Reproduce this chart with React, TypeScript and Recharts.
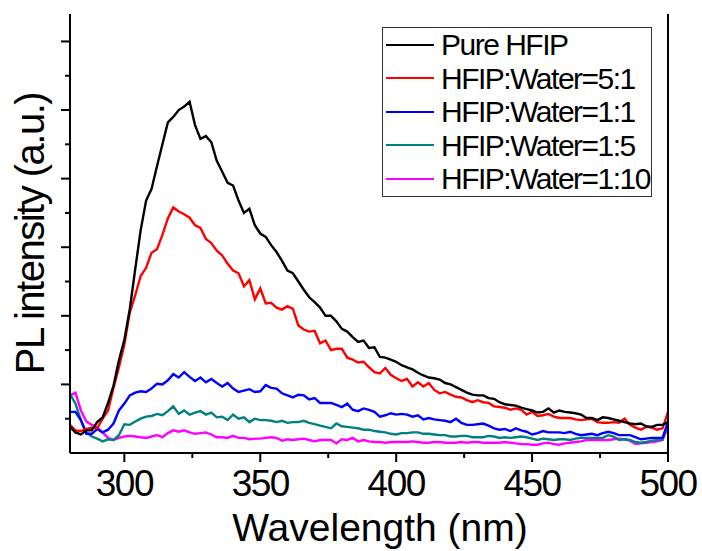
import { LineChart, Line, XAxis, YAxis, Legend } from "recharts";

// excitation scan, 2 nm steps
const WAVELENGTH = [
  280, 282, 284, 286, 288, 290, 292, 294, 296, 298,
  300, 302, 304, 306, 308, 310, 312, 314, 316, 318,
  320, 322, 324, 326, 328, 330, 332, 334, 336, 338,
  340, 342, 344, 346, 348, 350, 352, 354, 356, 358,
  360, 362, 364, 366, 368, 370, 372, 374, 376, 378,
  380, 382, 384, 386, 388, 390, 392, 394, 396, 398,
  400, 402, 404, 406, 408, 410, 412, 414, 416, 418,
  420, 422, 424, 426, 428, 430, 432, 434, 436, 438,
  440, 442, 444, 446, 448, 450, 452, 454, 456, 458,
  460, 462, 464, 466, 468, 470, 472, 474, 476, 478,
  480, 482, 484, 486, 488, 490, 492, 494, 496, 498,
  500,
];

const PURE_HFIP = [
  38, 30, 27, 33, 33, 45, 52, 73, 98, 135,
  165, 210, 268, 325, 368, 385, 418, 450, 482, 490,
  500, 505, 512, 478, 458, 462, 453, 426, 410, 394,
  390, 368, 350, 356, 332, 320, 315, 303, 293, 280,
  266, 262, 250, 238, 227, 220, 212, 200, 200, 192,
  181, 177, 169, 162, 164, 153, 154, 140, 139, 136,
  133, 128, 125, 122, 117, 113, 110, 109, 107, 102,
  100, 96, 92, 88, 85, 84, 84, 80, 79, 74,
  71, 70, 69, 66, 64, 62, 59, 60, 65, 59,
  62, 60, 59, 58, 56, 51, 51, 48, 52, 51,
  49, 47, 45, 43, 42, 43, 39, 38, 41, 41,
  45,
];

const RATIO_5_1 = [
  41, 33, 32, 35, 37, 36, 50, 62, 95, 125,
  158, 205, 230, 258, 270, 292, 297, 318, 342, 358,
  352, 348, 343, 332, 328, 312, 306, 295, 288, 276,
  266, 262, 243, 252, 224, 240, 218, 219, 212, 209,
  214, 210, 186, 180, 177, 178, 160, 164, 150, 152,
  152, 139, 136, 132, 133, 125, 118, 116, 124, 114,
  109, 105, 108, 97, 103, 97, 102, 92, 87, 89,
  85, 82, 81, 77, 74, 77, 74, 73, 68, 67,
  66, 63, 65, 63, 56, 60, 54, 55, 57, 53,
  51, 51, 51, 49, 48, 49, 50, 45, 44, 44,
  45, 44, 50, 41, 37, 34, 38, 37, 34, 36,
  60,
];

const RATIO_1_1 = [
  60, 60, 48, 28, 28, 35, 30, 34, 43, 62,
  72, 84, 88, 90, 89, 94, 101, 100, 106, 115,
  110, 118, 111, 105, 110, 103, 108, 102, 97, 102,
  94, 89, 91, 93, 89, 90, 99, 95, 94, 87,
  84, 81, 85, 84, 78, 80, 73, 73, 73, 70,
  67, 72, 63, 61, 65, 63, 60, 53, 55, 58,
  56, 57, 56, 53, 55, 49, 51, 49, 48, 47,
  45, 50, 44, 41, 41, 42, 43, 40, 36, 34,
  35, 32, 36, 33, 31, 27, 29, 32, 30, 30,
  30, 29, 31, 28, 26, 27, 28, 26, 29, 31,
  29, 26, 26, 26, 23, 20, 21, 22, 22, 22,
  45,
];

const RATIO_1_5 = [
  86, 72, 48, 30, 24, 21, 17, 20, 19, 26,
  42, 41, 46, 50, 53, 54, 57, 55, 61, 68,
  57, 62, 56, 59, 61, 56, 59, 52, 53, 48,
  56, 50, 52, 45, 50, 48, 48, 47, 45, 47,
  44, 45, 45, 47, 44, 42, 40, 38, 36, 43,
  39, 38, 37, 36, 34, 34, 32, 31, 30, 28,
  27, 29, 29, 30, 30, 28, 28, 27, 26, 26,
  24, 24, 25, 25, 23, 23, 23, 25, 24, 22,
  23, 22, 23, 24, 23, 21, 19, 21, 20, 19,
  20, 20, 19, 21, 22, 22, 22, 22, 22, 26,
  24, 19, 20, 19, 16, 15, 16, 18, 19, 20,
  44,
];

const RATIO_1_10 = [
  84, 88, 62, 46, 41, 37, 30, 22, 19, 22,
  24, 25, 24, 23, 22, 24, 26, 23, 29, 33,
  31, 33, 30, 28, 29, 30, 27, 23, 23, 22,
  25, 22, 22, 20, 21, 21, 22, 23, 22, 18,
  20, 19, 20, 21, 19, 17, 19, 19, 19, 14,
  20, 19, 22, 17, 19, 17, 16, 16, 15, 16,
  16, 16, 16, 17, 16, 15, 15, 16, 16, 15,
  15, 15, 16, 15, 16, 16, 15, 15, 15, 15,
  16, 15, 14, 13, 13, 12, 12, 14, 15, 13,
  12, 14, 15, 16, 17, 19, 19, 19, 19, 19,
  20, 21, 20, 18, 13, 14, 15, 16, 17, 19,
  38,
];

const X_TICKS = [300, 325, 350, 375, 400, 425, 450, 475, 500];
const X_LABELED = [300, 350, 400, 450, 500];
const Y_TICKS = [50, 100, 150, 200, 250, 300, 350, 400, 450, 500, 550, 600];
const Y_MAJOR = [100, 200, 300, 400, 500, 600];

const SERIES = [
  { key: "pure", name: "Pure HFIP", color: "#000000" },
  { key: "r51", name: "HFIP:Water=5:1", color: "#ff0000" },
  { key: "r11", name: "HFIP:Water=1:1", color: "#0000ff" },
  { key: "r15", name: "HFIP:Water=1:5", color: "#008080" },
  { key: "r110", name: "HFIP:Water=1:10", color: "#ff00ff" },
];

const data = WAVELENGTH.map((wl, i) => ({
  wl,
  pure: PURE_HFIP[i],
  r51: RATIO_5_1[i],
  r11: RATIO_1_1[i],
  r15: RATIO_1_5[i],
  r110: RATIO_1_10[i],
}));

const FONT = '"Liberation Sans", Arial, Helvetica, sans-serif';
const INK = "#000";

function BottomTick(props: any) {
  const { x, y, payload } = props;
  const labeled = X_LABELED.includes(payload.value);
  return (
    <g>
      <line x1={x} x2={x} y1={y} y2={y + (labeled ? 9 : 5)} stroke={INK} strokeWidth={2} />
      {labeled && (
        <text x={x} y={y + 43} textAnchor="middle" fontSize={37} letterSpacing={-1.5} fill={INK} fontFamily={FONT}>
          {payload.value}
        </text>
      )}
    </g>
  );
}

function TopTick(props: any) {
  const { x, y } = props;
  return <line x1={x} x2={x} y1={y - 4} y2={y} stroke={INK} strokeWidth={2} />;
}

function LeftTick(props: any) {
  const { x, y, payload } = props;
  const len = Y_MAJOR.includes(payload.value) ? 9 : 5;
  return <line x1={x - len} x2={x} y1={y} y2={y} stroke={INK} strokeWidth={2} />;
}

function RightTick(props: any) {
  const { x, y } = props;
  return <line x1={x} x2={x + 4} y1={y} y2={y} stroke={INK} strokeWidth={2} />;
}

function XTitle(props: any) {
  const vb = props.viewBox;
  return (
    <text x={vb.x + vb.width / 2 + 11} y={vb.y + 88} textAnchor="middle" fontSize={39} fill={INK} fontFamily={FONT}>
      Wavelength (nm)
    </text>
  );
}

function YTitle(props: any) {
  const vb = props.viewBox;
  const cx = vb.x + 30;
  const cy = vb.y + vb.height / 2;
  return (
    <text
      x={cx}
      y={cy}
      transform={`rotate(-90 ${cx} ${cy})`}
      textAnchor="middle"
      dominantBaseline="central"
      fontSize={40}
      letterSpacing={-1.5}
      fill={INK}
      fontFamily={FONT}
    >
      PL intensity (a.u.)
    </text>
  );
}

function LegendBox() {
  return (
    <div
      style={{
        boxSizing: "border-box",
        width: 270,
        border: "1px solid #333",
        background: "#fff",
        fontFamily: FONT,
      }}
    >
      {SERIES.map((s) => (
        <div key={s.key} style={{ display: "flex", alignItems: "center", height: 33.5 }}>
          <span style={{ display: "inline-block", width: 48, height: 2, background: s.color, marginLeft: 3, marginRight: 7 }} />
          <span style={{ fontSize: 30, letterSpacing: -1.5, lineHeight: "33.5px", color: INK, whiteSpace: "nowrap" }}>
            {s.name}
          </span>
        </div>
      ))}
    </div>
  );
}

export default function App() {
  return (
    <div style={{ position: "absolute", left: 0, top: 0, background: "#fff" }}>
      <LineChart width={702} height={551} data={data} margin={{ top: 14, right: 0, bottom: 0, left: 0 }}>
        <XAxis
          xAxisId="b"
          dataKey="wl"
          type="number"
          domain={[280, 500]}
          ticks={X_TICKS}
          interval={0}
          height={98}
          tickSize={0}
          tickMargin={0}
          tick={<BottomTick />}
          axisLine={{ stroke: INK, strokeWidth: 2 }}
          label={<XTitle />}
        />
        <XAxis
          xAxisId="t"
          orientation="top"
          dataKey="wl"
          type="number"
          domain={[280, 500]}
          ticks={X_TICKS}
          interval={0}
          height={0}
          tickSize={0}
          tickMargin={0}
          tick={<TopTick />}
          axisLine={{ stroke: INK, strokeWidth: 2 }}
        />
        <YAxis
          yAxisId="l"
          type="number"
          domain={[0, 640]}
          ticks={Y_TICKS}
          interval={0}
          width={70}
          tickSize={0}
          tickMargin={0}
          tick={<LeftTick />}
          axisLine={{ stroke: INK, strokeWidth: 2 }}
          label={<YTitle />}
        />
        <YAxis
          yAxisId="r"
          orientation="right"
          type="number"
          domain={[0, 640]}
          ticks={Y_TICKS}
          interval={0}
          width={34}
          tickSize={0}
          tickMargin={0}
          tick={<RightTick />}
          axisLine={{ stroke: INK, strokeWidth: 2 }}
        />
        <Legend
          layout="vertical"
          align="center"
          verticalAlign="middle"
          content={<LegendBox />}
          wrapperStyle={{ top: 27, left: 382, width: 270 }}
        />
        {[...SERIES].reverse().map((s) => (
          <Line
            key={s.key}
            xAxisId="b"
            yAxisId="l"
            dataKey={s.key}
            name={s.name}
            type="linear"
            stroke={s.color}
            strokeWidth={2.4}
            dot={false}
            isAnimationActive={false}
          />
        ))}
      </LineChart>
    </div>
  );
}
